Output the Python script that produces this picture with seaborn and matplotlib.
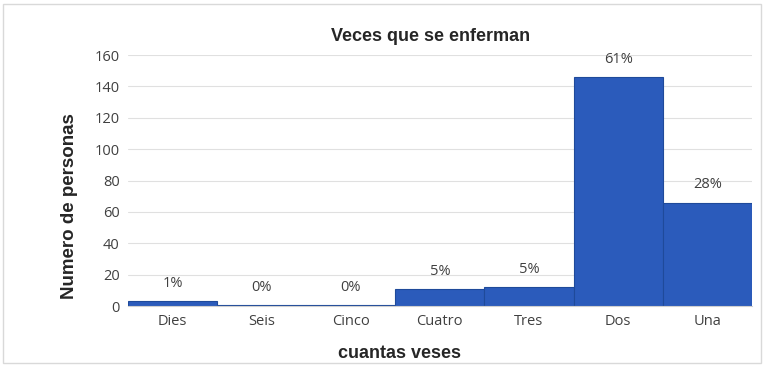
import matplotlib
matplotlib.use("Agg")
import matplotlib.pyplot as plt
import seaborn as sns
import pandas as pd

categorias = ["Dies", "Seis", "Cinco", "Cuatro", "Tres", "Dos", "Una"]
personas = [3, 0.6, 0.6, 11, 12, 146, 66]
porcentajes = ["1%", "0%", "0%", "5%", "5%", "61%", "28%"]
y_ticks = [0, 20, 40, 60, 80, 100, 120, 140, 160]

sns.set_style("white")
plt.rcParams['font.family'] = ['Liberation Sans', 'DejaVu Sans']

df = pd.DataFrame({"veces": categorias, "personas": personas})

fig = plt.figure(figsize=(7.64, 3.67), dpi=100)
ax = fig.add_axes([0.1675, 0.166, 0.8165, 0.684])

sns.barplot(data=df, x="veces", y="personas", order=categorias, width=1.0,
            color="#2b5bbb", edgecolor="#1f4a9a", linewidth=0.8, saturation=1, ax=ax)

for p, lab in zip(ax.patches, porcentajes):
    h = p.get_height()
    ax.annotate(lab, (p.get_x() + p.get_width() / 2., h + 6.5),
                ha='center', va='bottom', fontsize=10.5, color="#404040",
                family=["Open Sans", "DejaVu Sans"])

ax.set_ylim(0, 160)
ax.set_yticks(y_ticks)
ax.tick_params(axis='both', length=0, labelsize=10.5, labelcolor="#404040", pad=6)
for t in ax.get_xticklabels() + ax.get_yticklabels():
    t.set_family(["Open Sans", "DejaVu Sans"])
ax.yaxis.grid(True, color="#e0e0e0", linewidth=0.8)
ax.set_axisbelow(True)
for s in ["top", "right", "left"]:
    ax.spines[s].set_visible(False)
ax.spines["bottom"].set_color("#d0d0d0")

ax.set_title("Veces que se enferman", fontsize=13, fontweight="bold", pad=10, x=0.485)
ax.set_xlabel("cuantas veses", fontsize=13, fontweight="bold")
ax.xaxis.set_label_coords(0.435, -0.155)
ax.set_ylabel("Numero de personas", fontsize=13.5, fontweight="bold")
ax.yaxis.set_label_coords(-0.08, 0.40)

fig.patches.append(plt.Rectangle((0.004, 0.01), 0.992, 0.98, transform=fig.transFigure,
                                 fill=False, edgecolor="#d9d9d9", linewidth=1))

fig.savefig("out.png", dpi=100)
plt.close(fig)
